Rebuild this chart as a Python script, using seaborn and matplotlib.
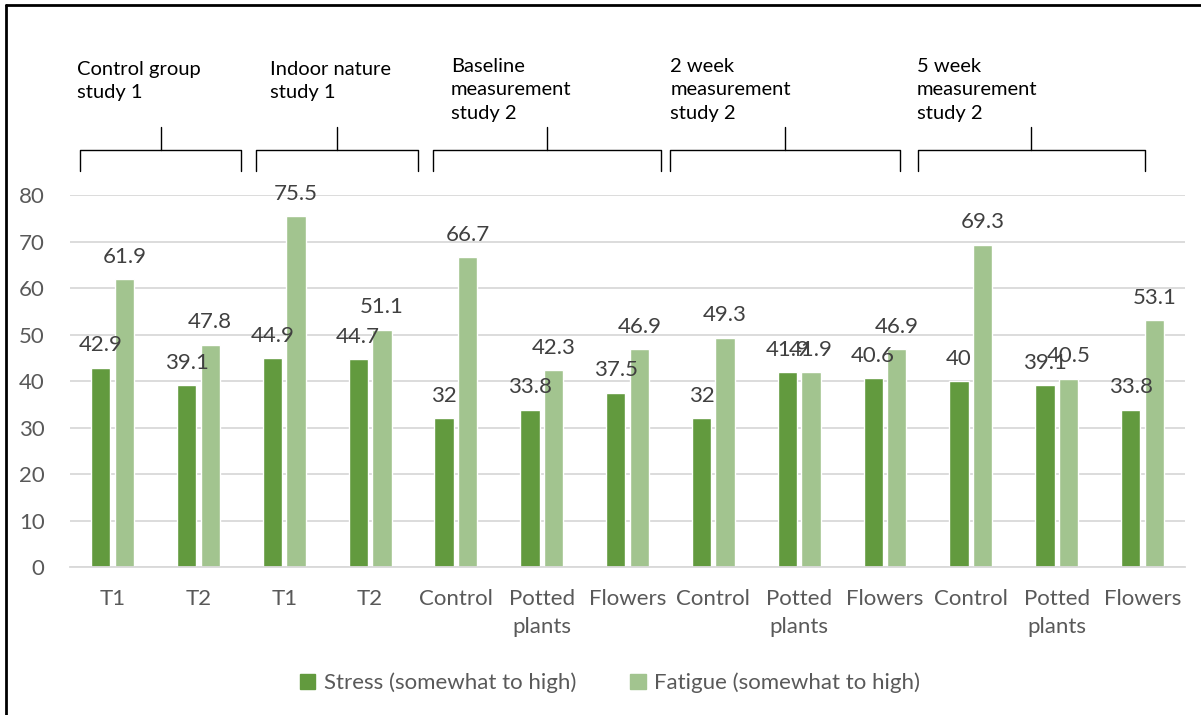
import numpy as np
import pandas as pd
import matplotlib.pyplot as plt
import matplotlib.transforms as mtransforms
from matplotlib.lines import Line2D
import seaborn as sns

categories = ["T1", "T2", "T1", "T2",
              "Control", "Potted\nplants", "Flowers",
              "Control", "Potted\nplants", "Flowers",
              "Control", "Potted\nplants", "Flowers"]
stress = [42.9, 39.1, 44.9, 44.7, 32, 33.8, 37.5, 32, 41.9, 40.6, 40, 39.1, 33.8]
fatigue = [61.9, 47.8, 75.5, 51.1, 66.7, 42.3, 46.9, 49.3, 41.9, 46.9, 69.3, 40.5, 53.1]
series = ["Stress (somewhat to high)", "Fatigue (somewhat to high)"]
groups = ["Control group\nstudy 1", "Indoor nature\nstudy 1",
          "Baseline\nmeasurement\nstudy 2", "2 week\nmeasurement\nstudy 2",
          "5 week\nmeasurement\nstudy 2"]
group_first = [0, 2, 4, 7, 10]
group_last = [1, 3, 6, 9, 12]

colors = ["#629A3E", "#A2C48F"]
text_col = "#404040"
tick_col = "#595959"

sns.set_theme(style="white")
plt.rcParams["font.family"] = ["Lato", "DejaVu Sans"]

pos = list(range(len(categories)))
df = pd.DataFrame({
    "pos": pos * 2,
    "value": stress + fatigue,
    "series": [series[0]] * len(stress) + [series[1]] * len(fatigue),
})

fig = plt.figure(figsize=(12.01, 7.15), dpi=100)
ax = fig.add_axes([0.058, 0.207, 0.929, 0.520])

sns.barplot(data=df, x="pos", y="value", hue="series", hue_order=series,
            palette=colors, width=0.55, gap=0.18, saturation=1,
            native_scale=True, ax=ax, legend=False)

ax.set_xlim(-0.5, len(categories) - 0.5)
ax.set_ylim(0, 80)
ax.set_yticks(range(0, 81, 10))
ax.set_xticks(pos)
ax.set_xticklabels(categories, linespacing=1.5)
ax.set_xlabel("")
ax.set_ylabel("")
ax.grid(axis="y", color="#D9D9D9", linewidth=1.3)
ax.set_axisbelow(True)
for s in ["top", "right", "left"]:
    ax.spines[s].set_visible(False)
ax.spines["bottom"].set_color("#D9D9D9")
ax.spines["bottom"].set_linewidth(1.3)
ax.tick_params(axis="both", length=0, labelsize=16, labelcolor=tick_col)
ax.tick_params(axis="x", pad=16)
ax.tick_params(axis="y", pad=18)

# value labels
for container in ax.containers:
    ax.bar_label(container, labels=[f"{v:g}" for v in container.datavalues],
                 padding=9, fontsize=16, color=text_col)

# group brackets above the plot
trans = mtransforms.blended_transform_factory(ax.transData, fig.transFigure)
inset_left = [0.12, 0.17, 0.23, 0.0, -0.12]
inset_right = [0.0, -0.06, 0.11, 0.33, 0.47]
text_shift = [-0.03, 0.17, 0.21, 0.0, -0.01]
for i, label in enumerate(groups):
    x0 = group_first[i] - 0.5 + inset_left[i]
    x1 = group_last[i] + 0.5 - inset_right[i]
    xm = (x0 + x1) / 2
    y_bar, y_end, y_stem = 0.790, 0.761, 0.822
    fig.add_artist(Line2D([x0, x0, x1, x1], [y_end, y_bar, y_bar, y_end],
                          transform=trans, color="black", linewidth=1))
    fig.add_artist(Line2D([xm, xm], [y_bar, y_stem],
                          transform=trans, color="black", linewidth=1))
    nlines = label.count("\n") + 1
    ytop = 0.915 if nlines == 2 else 0.919
    fig.text(x0 + text_shift[i], ytop, label, transform=trans, ha="left",
             va="top", fontsize=14.5, color="black", linespacing=1.45)

# legend
handles = [plt.Rectangle((0, 0), 1, 1, color=c) for c in colors]
fig.legend(handles, series, loc="center", bbox_to_anchor=(0.508, 0.045), ncol=2,
           frameon=False, handlelength=0.7, handleheight=0.7,
           handletextpad=0.4, columnspacing=2.4, fontsize=16,
           labelcolor=tick_col)

# outer frame (left and top edges)
fig.add_artist(Line2D([0.005, 0.005], [0, 0.993], transform=fig.transFigure,
                      color="black", linewidth=2))
fig.add_artist(Line2D([0.005, 1], [0.993, 0.993], transform=fig.transFigure,
                      color="black", linewidth=2))

fig.savefig("out.png", dpi=100)
